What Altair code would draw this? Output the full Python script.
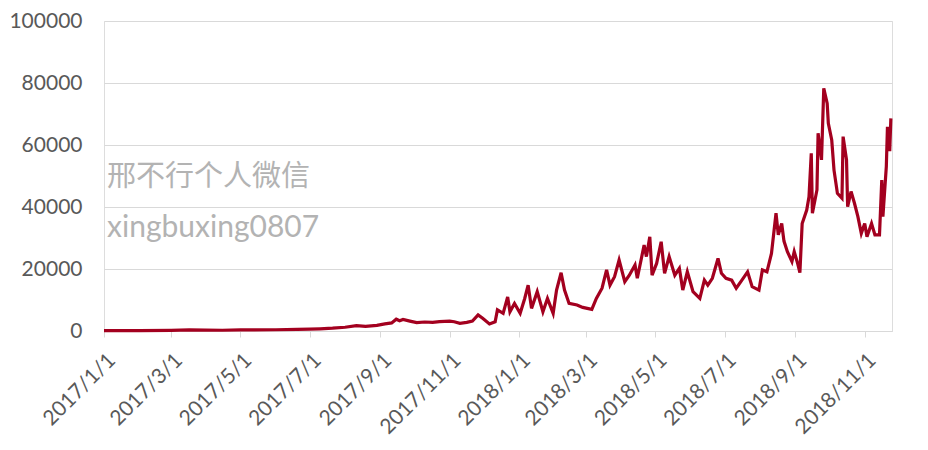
import altair as alt
import pandas as pd

dates = [
    "2017-01-01", "2017-02-01", "2017-03-01", "2017-03-17", "2017-04-15", "2017-05-01",
    "2017-06-01", "2017-06-20", "2017-07-01", "2017-07-10", "2017-07-21", "2017-08-01",
    "2017-08-11", "2017-08-19", "2017-08-29", "2017-09-05", "2017-09-11", "2017-09-15",
    "2017-09-18", "2017-09-21", "2017-09-27", "2017-10-03", "2017-10-10", "2017-10-17",
    "2017-10-23", "2017-11-01", "2017-11-05", "2017-11-10", "2017-11-16", "2017-11-21",
    "2017-11-26", "2017-11-30", "2017-12-06", "2017-12-11", "2017-12-13", "2017-12-18",
    "2017-12-22", "2017-12-24", "2017-12-28", "2018-01-02", "2018-01-06", "2018-01-09",
    "2018-01-12", "2018-01-17", "2018-01-22", "2018-01-26", "2018-01-31", "2018-02-03",
    "2018-02-07", "2018-02-10", "2018-02-14", "2018-02-21", "2018-02-26", "2018-03-06",
    "2018-03-10", "2018-03-15", "2018-03-19", "2018-03-22", "2018-03-26", "2018-03-30",
    "2018-04-04", "2018-04-08", "2018-04-13", "2018-04-15", "2018-04-21", "2018-04-23",
    "2018-04-26", "2018-04-28", "2018-05-02", "2018-05-06", "2018-05-09", "2018-05-13",
    "2018-05-18", "2018-05-22", "2018-05-25", "2018-05-29", "2018-06-03", "2018-06-09",
    "2018-06-13", "2018-06-16", "2018-06-20", "2018-06-25", "2018-06-28", "2018-07-02",
    "2018-07-07", "2018-07-11", "2018-07-16", "2018-07-21", "2018-07-25", "2018-07-31",
    "2018-08-03", "2018-08-07", "2018-08-11", "2018-08-15", "2018-08-17", "2018-08-20",
    "2018-08-22", "2018-08-25", "2018-08-29", "2018-08-31", "2018-09-03", "2018-09-05",
    "2018-09-07", "2018-09-11", "2018-09-13", "2018-09-15", "2018-09-16", "2018-09-20",
    "2018-09-21", "2018-09-24", "2018-09-26", "2018-09-29", "2018-09-30", "2018-10-03",
    "2018-10-05", "2018-10-08", "2018-10-12", "2018-10-13", "2018-10-16", "2018-10-17",
    "2018-10-20", "2018-10-23", "2018-10-26", "2018-10-29", "2018-11-01", "2018-11-03",
    "2018-11-07", "2018-11-10", "2018-11-14", "2018-11-16", "2018-11-17", "2018-11-20",
    "2018-11-21", "2018-11-23", "2018-11-24",
]
values = [
    100, 150, 200, 350, 250, 350,
    400, 500, 600, 700, 900, 1200,
    1700, 1500, 1800, 2300, 2600, 3800,
    3300, 3700, 3200, 2700, 2900, 2800,
    3000, 3200, 3000, 2500, 2800, 3200,
    5200, 4100, 2300, 3000, 6800, 5700,
    11000, 6200, 8900, 5700, 10500, 14800,
    7300, 12700, 6200, 10500, 5700, 13200,
    18800, 13200, 8900, 8400, 7600, 7000,
    10500, 13800, 19700, 14800, 17500, 22900,
    15900, 18000, 21300, 17000, 27700, 24000,
    30400, 18000, 21800, 28800, 18600, 24000,
    18000, 20200, 13200, 19100, 12700, 10500,
    16400, 14800, 17000, 23400, 18600, 17000,
    16400, 13800, 16400, 19100, 14300, 13200,
    19700, 19100, 25000, 38000, 31000, 34700,
    29000, 25600, 22400, 25600, 21800, 18800,
    34700, 39000, 43300, 57300, 38000, 45500,
    63800, 55200, 78300, 73400, 67000, 61600,
    51900, 44400, 42800, 62700, 55200, 40100,
    45000, 41200, 36900, 31500, 34700, 30400,
    34700, 31000, 31000, 48700, 36900, 53000,
    65900, 58000, 68600,
]

tick_dates = [
    "2017-01-01", "2017-03-01", "2017-05-01", "2017-07-01", "2017-09-01", "2017-11-01",
    "2018-01-01", "2018-03-01", "2018-05-01", "2018-07-01", "2018-09-01", "2018-11-01",
]
y_ticks = [0, 20000, 40000, 60000, 80000, 100000]
watermark_lines = ["邢不行个人微信", "xingbuxing0807"]

df = pd.DataFrame({"date": pd.to_datetime(dates), "value": values})
tick_vals = [alt.DateTime(year=int(d[:4]), month=int(d[5:7]), date=int(d[8:10])) for d in tick_dates]

line = alt.Chart(df).mark_line(color="#a3001f", strokeWidth=3.2, strokeJoin="miter").encode(
    x=alt.X(
        "date:T",
        scale=alt.Scale(domain=[alt.DateTime(year=2017, month=1, date=1),
                                alt.DateTime(year=2018, month=11, date=25)]),
        axis=alt.Axis(
            values=tick_vals, format="%Y/%-m/%-d", labelAngle=-45, title=None,
            grid=False, domainColor="#d9d9d9", tickColor="#d9d9d9", tickSize=6,
            labelFont="Lato", labelFontSize=21, labelColor="#595959",
            labelAlign="right", labelBaseline="top", labelPadding=12,
            labelOverlap=False, labelBound=False, labelFlush=False,
        ),
    ),
    y=alt.Y(
        "value:Q",
        scale=alt.Scale(domain=[0, 100000], nice=False),
        axis=alt.Axis(
            values=y_ticks, format="d", title=None, domain=False, ticks=False,
            gridColor="#d9d9d9", labelFont="Lato", labelFontSize=21,
            labelColor="#595959", labelPadding=22,
        ),
    ),
)

wm_df = pd.DataFrame({"text": watermark_lines})
wm1 = alt.Chart(wm_df.iloc[[0]]).mark_text(
    align="left", baseline="middle", font="Noto Sans CJK SC", fontSize=29, color="#b3b3b3"
).encode(text="text:N", x=alt.value(3), y=alt.value(156))
wm2 = alt.Chart(wm_df.iloc[[1]]).mark_text(
    align="left", baseline="middle", font="Lato", fontSize=30, color="#b3b3b3"
).encode(text="text:N", x=alt.value(3), y=alt.value(207))

chart = alt.layer(line, wm1, wm2).properties(
    width=788, height=310,
    autosize="none",
    padding={"left": 96, "top": 13, "right": 28, "bottom": 111},
).configure_view(stroke=None).configure(background="white")

chart.save("out.html", embed_options={"renderer": "svg", "actions": False})
